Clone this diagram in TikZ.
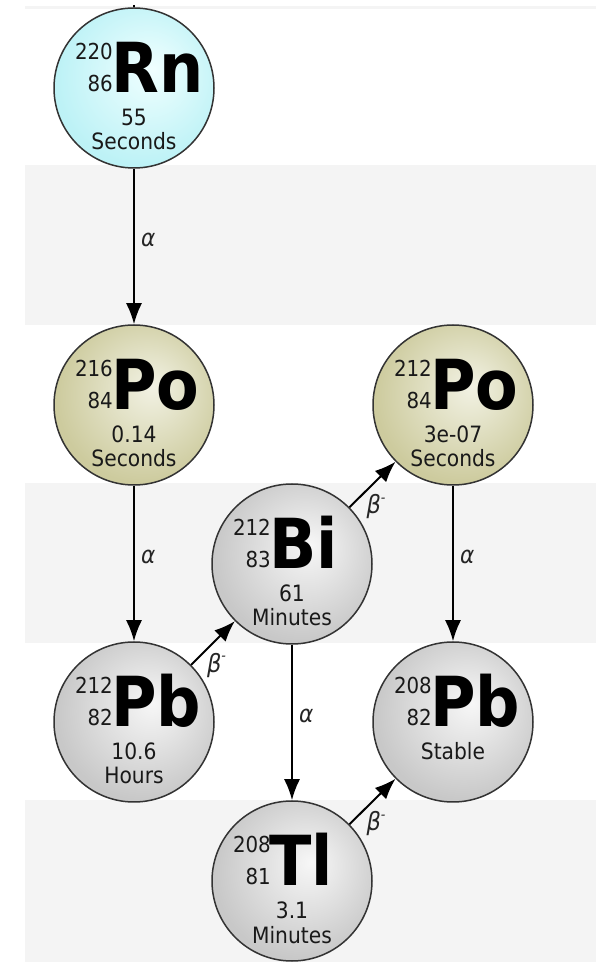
\documentclass[tikz,border=0pt]{standalone}
\usepackage{fontspec}
\setmainfont{DejaVu Sans Condensed}
\usetikzlibrary{arrows.meta}

\definecolor{bandgray}{HTML}{F4F4F4}
\definecolor{rncol}{HTML}{BDF2F6}
\definecolor{rnlight}{HTML}{F0FFFF}
\definecolor{pocol}{HTML}{CDCB9E}
\definecolor{polight}{HTML}{F2F2E4}
\definecolor{pbcol}{HTML}{C8C8C8}
\definecolor{pblight}{HTML}{F7F7F7}

\pgfdeclareradialshading{rnshade}{\pgfpoint{6bp}{6bp}}{color(0bp)=(rnlight); color(27bp)=(rncol); color(50bp)=(rncol)}
\pgfdeclareradialshading{poshade}{\pgfpoint{6bp}{6bp}}{color(0bp)=(polight); color(27bp)=(pocol); color(50bp)=(pocol)}
\pgfdeclareradialshading{pbshade}{\pgfpoint{6bp}{6bp}}{color(0bp)=(pblight); color(27bp)=(pbcol); color(50bp)=(pbcol)}

% one nuclide: name, position, shading, mass, Z, symbol, half-life lines
\newcommand{\nuclide}[8]{%
  \node[nucleus,shade,shading=#3] (#1) at #2 {};
  \node[symb,anchor=base west] (#1-sym) at ([xshift=-23pt,yshift=-5pt]#1.center) {#6};
  \node[iso,anchor=base east] (#1-a) at ([xshift=-21pt,yshift=28pt]#1.center) {#4};
  \node[iso,anchor=base east] (#1-z) at ([xshift=-21pt,yshift=-4pt]#1.center) {#5};
  \node[life,anchor=base] (#1-t1) at ([yshift=-38pt]#1.center) {#7};
  \node[life,anchor=base] (#1-t2) at ([yshift=-62pt]#1.center) {#8};
}

\begin{document}
\begin{tikzpicture}[x=1pt,y=1pt,
    nucleus/.style={circle,draw=black!80,line width=1.5pt,minimum size=160pt,inner sep=0pt},
    symb/.style={inner sep=0pt,font=\fontsize{69}{69}\selectfont\bfseries},
    iso/.style={inner sep=0pt,text=black!90,font=\fontsize{22}{22}\selectfont},
    life/.style={inner sep=0pt,text=black!90,font=\fontsize{22.5}{23}\selectfont},
    decay/.style={draw=black,line width=2pt,-{Latex[length=21pt,width=16pt]}},
    alab/.style={inner sep=0pt,text=black!85,font=\fontsize{24}{24}\selectfont\itshape},
    blab/.style={inner sep=0pt,text=black!85,font=\fontsize{25}{25}\selectfont\itshape}]
    \useasboundingbox (0,0) rectangle (616,962);

    % background bands
    \fill[bandgray] (25,953) rectangle (596,956);
    \fill[bandgray] (25,637) rectangle (596,797);
    \fill[bandgray] (25,319) rectangle (596,479);
    \fill[bandgray] (25,0) rectangle (596,162);

    \nuclide{rn220}{(134,874)}{rnshade}{220}{86}{Rn}{55}{Seconds}
    \nuclide{po216}{(134,557)}{poshade}{216}{84}{Po}{0.14}{Seconds}
    \nuclide{po212}{(453,557)}{poshade}{212}{84}{Po}{3e-07}{Seconds}
    \nuclide{bi212}{(292,398)}{pbshade}{212}{83}{Bi}{61}{Minutes}
    \nuclide{pb212}{(134,240)}{pbshade}{212}{82}{Pb}{10.6}{Hours}
    \nuclide{pb208}{(453,240)}{pbshade}{208}{82}{Pb}{Stable}{}
    \nuclide{tl208}{(292,81)}{pbshade}{208}{81}{Tl}{3.1}{Minutes}

    \coordinate (top) at (134,957);
    \draw[draw=black,line width=2pt] (top) -- (rn220);

    \draw[decay] (rn220) -- (po216) node[alab,midway,anchor=west,xshift=6pt,yshift=7pt] (d1) {α};
    \draw[decay] (po216) -- (pb212) node[alab,midway,anchor=west,xshift=6pt,yshift=7pt] (d2) {α};
    \draw[decay] (pb212) -- (bi212) node[blab,midway,anchor=north west,xshift=-7pt,yshift=-9pt] (d3) {β\raisebox{0.45em}{\fontsize{14}{14}\selectfont -}};
    \draw[decay] (bi212) -- (po212) node[blab,midway,anchor=north west,xshift=-7pt,yshift=-9pt] (d4) {β\raisebox{0.45em}{\fontsize{14}{14}\selectfont -}};
    \draw[decay] (po212) -- (pb208) node[alab,midway,anchor=west,xshift=6pt,yshift=7pt] (d5) {α};
    \draw[decay] (bi212) -- (tl208) node[alab,midway,anchor=west,xshift=6pt,yshift=7pt] (d6) {α};
    \draw[decay] (tl208) -- (pb208) node[blab,midway,anchor=north west,xshift=-7pt,yshift=-9pt] (d7) {β\raisebox{0.45em}{\fontsize{14}{14}\selectfont -}};
\end{tikzpicture}
\end{document}
